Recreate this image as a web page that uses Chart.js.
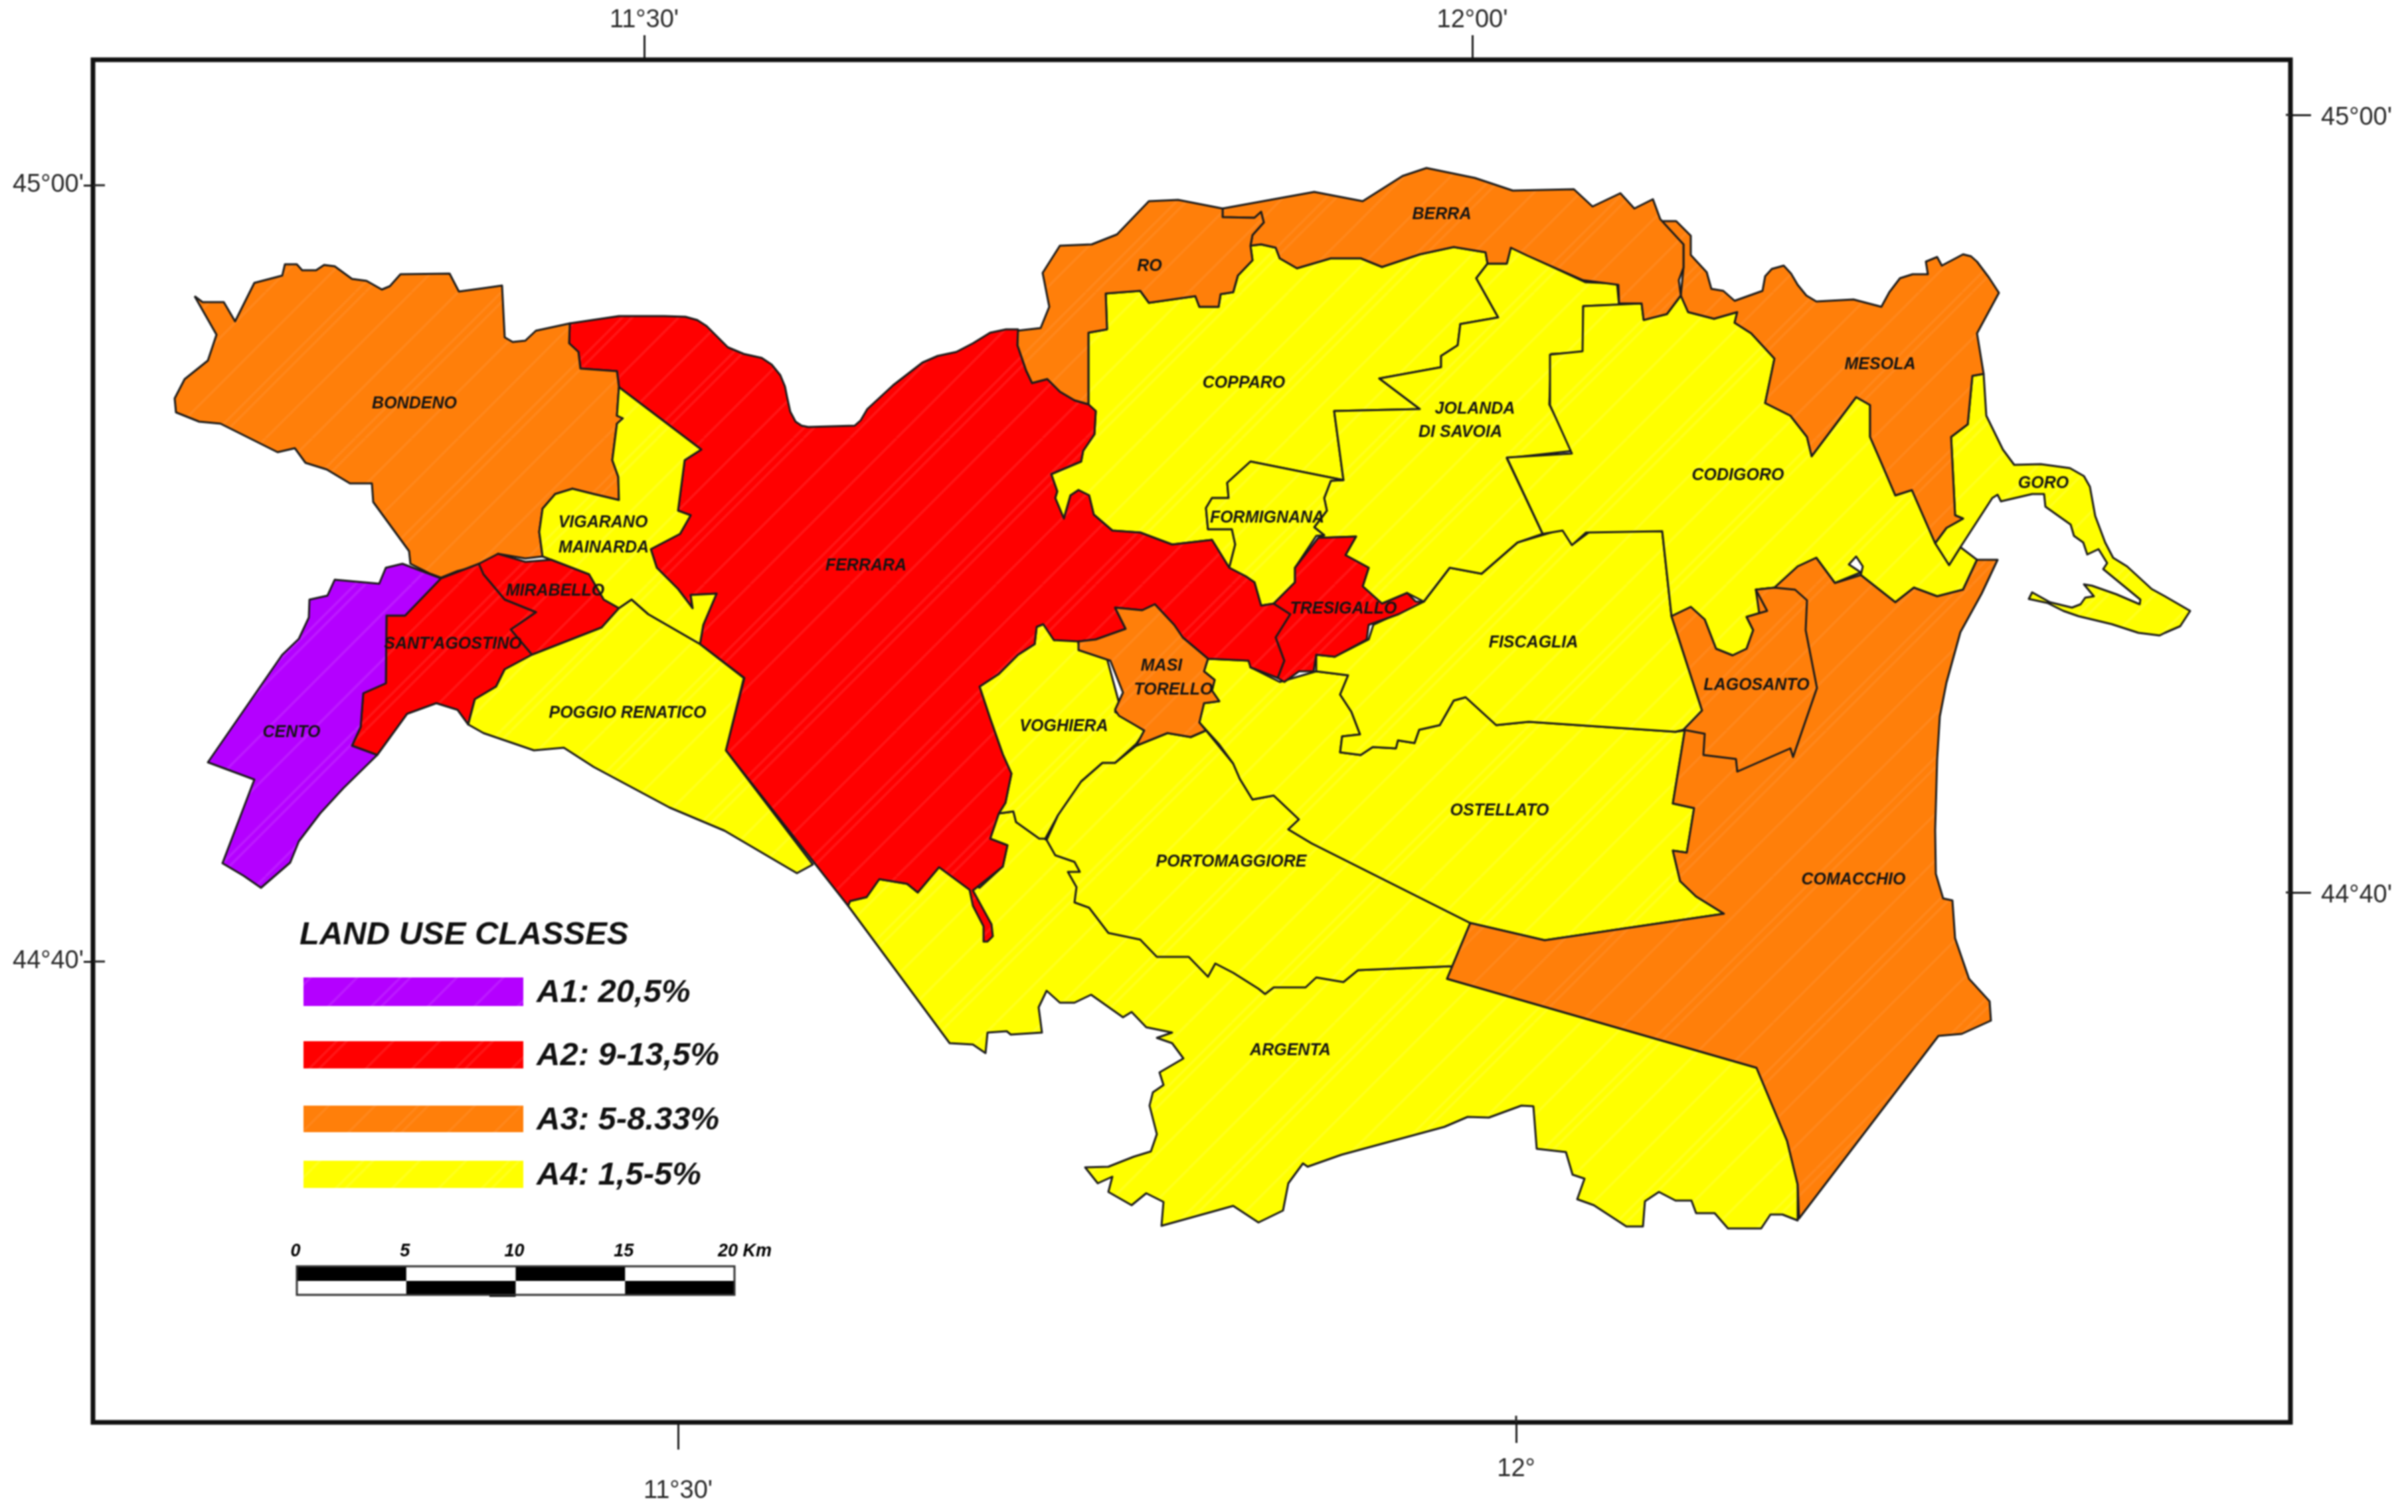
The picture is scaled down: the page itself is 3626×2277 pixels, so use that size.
<!DOCTYPE html>
<html>
<head>
<meta charset="utf-8">
<title>Land use classes</title>
<script src="https://cdn.jsdelivr.net/npm/chart.js@4/dist/chart.umd.min.js"></script>
<style>
html, body { margin: 0; padding: 0; background: #fff; }
canvas { display: block; filter: blur(1px); }
</style>
</head>
<body>
<canvas id="map" width="3626" height="2277"></canvas>
<script>
// Municipality outlines (x, y in map units, y grows downwards)
const argenta = [[1277,1364],[1430,1571],[1465,1573],[1484,1586],[1487,1555],[1516,1553],[1522,1558],[1569,1555],[1564,1517],[1576,1492],[1596,1510],[1618,1510],[1643,1498],[1691,1532],[1704,1524],[1726,1547],[1765,1555],[1742,1563],[1765,1571],[1782,1594],[1746,1615],[1752,1634],[1736,1645],[1731,1665],[1742,1708],[1733,1734],[1707,1742],[1669,1757],[1634,1758],[1653,1782],[1675,1772],[1669,1795],[1704,1815],[1726,1797],[1752,1810],[1749,1846],[1857,1816],[1895,1841],[1932,1823],[1940,1782],[1962,1752],[1969,1757],[2020,1739],[2175,1697],[2210,1682],[2242,1683],[2291,1665],[2309,1666],[2314,1730],[2358,1735],[2368,1769],[2386,1775],[2375,1806],[2400,1815],[2449,1847],[2474,1847],[2477,1809],[2498,1795],[2523,1808],[2547,1808],[2554,1827],[2582,1827],[2602,1850],[2652,1850],[2666,1829],[2684,1829],[2707,1838],[2707,1784],[2691,1718],[2645,1608],[2179,1474],[2187,1455],[2045,1461],[1800,1400],[1576,1265],[1530,1238],[1526,1222],[1504,1225],[1491,1263],[1517,1273],[1510,1305],[1475,1337],[1414,1306],[1382,1344],[1366,1331],[1324,1324],[1305,1351],[1280,1357]];
const voghiera = [[1475,1034],[1504,1015],[1533,986],[1558,970],[1561,944],[1571,940],[1587,964],[1622,960],[1625,973],[1667,992],[1686,1062],[1679,1072],[1724,1101],[1711,1120],[1679,1149],[1660,1149],[1628,1177],[1593,1228],[1574,1263],[1565,1263],[1530,1238],[1526,1222],[1504,1225],[1514,1209],[1523,1165],[1510,1136],[1491,1082]];
const portomaggiore = [[1711,1123],[1758,1104],[1793,1110],[1816,1100],[1857,1150],[1867,1173],[1886,1204],[1918,1198],[1956,1234],[1940,1249],[1975,1270],[2214,1390],[2187,1455],[2045,1461],[2023,1479],[1982,1472],[1966,1487],[1918,1487],[1905,1497],[1895,1489],[1857,1465],[1830,1451],[1819,1471],[1790,1441],[1742,1441],[1717,1415],[1669,1405],[1640,1367],[1618,1359],[1621,1336],[1608,1313],[1626,1313],[1618,1298],[1589,1288],[1576,1265],[1593,1228],[1628,1177],[1660,1149],[1679,1149]];
const ostellato = [[1819,992],[1883,995],[1883,1005],[1927,1027],[1982,1011],[2030,1017],[2018,1046],[2035,1072],[2048,1106],[2021,1109],[2018,1133],[2049,1137],[2067,1125],[2102,1127],[2105,1115],[2130,1119],[2137,1099],[2168,1092],[2189,1055],[2207,1050],[2253,1092],[2302,1087],[2523,1102],[2537,1100],[2519,1210],[2551,1217],[2540,1284],[2519,1281],[2530,1327],[2554,1350],[2596,1376],[2326,1416],[2214,1390],[1975,1270],[1940,1249],[1956,1234],[1918,1198],[1886,1204],[1867,1173],[1857,1150],[1835,1120],[1806,1088],[1813,1059],[1836,1056],[1825,1040],[1829,1024],[1813,1011]];
const fiscaglia = [[2144,906],[2183,855],[2231,864],[2285,817],[2352,797],[2368,820],[2396,799],[2503,800],[2517,928],[2563,1070],[2535,1099],[2523,1102],[2302,1087],[2253,1092],[2207,1050],[2189,1055],[2168,1092],[2137,1099],[2130,1119],[2105,1115],[2102,1127],[2067,1125],[2049,1137],[2018,1133],[2021,1109],[2048,1106],[2035,1072],[2018,1046],[2030,1017],[1982,1011],[1982,986],[2010,989],[2061,963],[2068,941]];
const copparo = [[1667,496],[1665,442],[1717,438],[1730,456],[1800,446],[1806,462],[1835,462],[1838,443],[1857,440],[1864,415],[1886,392],[1883,370],[1899,368],[1921,373],[1927,389],[1953,404],[2004,389],[2049,389],[2081,402],[2138,383],[2189,372],[2237,380],[2240,397],[2223,419],[2256,478],[2199,488],[2195,520],[2170,536],[2170,553],[2077,570],[2138,616],[2009,619],[2023,723],[1883,695],[1848,727],[1850,750],[1825,750],[1816,765],[1819,797],[1855,797],[1860,820],[1851,855],[1825,813],[1765,820],[1717,802],[1675,799],[1647,775],[1640,746],[1624,738],[1612,746],[1602,781],[1589,750],[1592,740],[1583,714],[1628,695],[1631,679],[1648,654],[1650,619],[1639,609],[1639,501]];
const jolanda = [[2240,397],[2269,397],[2275,373],[2387,425],[2435,427],[2438,459],[2384,461],[2384,531],[2336,533],[2333,609],[2368,679],[2269,690],[2323,804],[2285,817],[2231,864],[2183,855],[2144,906],[2119,893],[2081,909],[2052,883],[2061,855],[2026,836],[2042,808],[1985,810],[1994,806],[1979,794],[1998,769],[1994,750],[2004,724],[2023,723],[2009,619],[2138,616],[2077,570],[2170,553],[2170,536],[2195,520],[2199,488],[2256,478],[2223,419]];
const formignana = [[1883,695],[2023,723],[2004,724],[1994,750],[1998,769],[1979,794],[1994,806],[1982,807],[1950,855],[1950,877],[1918,909],[1899,912],[1889,877],[1876,868],[1851,855],[1860,820],[1855,797],[1819,797],[1816,765],[1825,750],[1850,750],[1848,727]];
const codigoro = [[2531,445],[2510,473],[2475,481],[2472,457],[2384,461],[2383,529],[2334,534],[2334,610],[2367,683],[2269,689],[2323,804],[2353,799],[2367,821],[2388,802],[2503,800],[2517,928],[2546,914],[2567,933],[2584,977],[2609,987],[2630,977],[2640,949],[2630,929],[2661,920],[2644,888],[2672,885],[2707,853],[2735,840],[2763,878],[2802,862],[2784,850],[2795,838],[2805,853],[2802,866],[2854,907],[2882,885],[2917,898],[2956,888],[2977,843],[2952,824],[2935,851],[2914,818],[2879,738],[2854,746],[2833,697],[2816,658],[2816,610],[2795,598],[2728,687],[2721,658],[2696,626],[2658,607],[2672,540],[2637,502],[2612,486],[2616,470],[2581,480],[2542,470]];
const goro = [[2987,563],[2991,626],[3016,677],[3033,700],[3073,699],[3117,705],[3138,717],[3147,733],[3155,777],[3170,817],[3182,840],[3203,853],[3240,887],[3260,898],[3298,920],[3283,943],[3260,953],[3252,957],[3220,953],[3180,940],[3130,928],[3107,920],[3083,908],[3055,902],[3060,892],[3087,907],[3120,915],[3133,910],[3140,900],[3153,898],[3138,880],[3150,882],[3187,895],[3222,910],[3223,903],[3167,857],[3173,848],[3160,827],[3143,835],[3137,817],[3123,807],[3118,790],[3080,763],[3078,744],[3060,744],[3013,755],[3008,745],[3000,750],[2952,824],[2935,851],[2914,818],[2931,795],[2956,781],[2944,776],[2938,658],[2963,639],[2970,566]];
const comacchio = [[2977,843],[3008,843],[2984,894],[2952,952],[2931,1028],[2921,1079],[2917,1143],[2914,1250],[2915,1316],[2926,1353],[2940,1356],[2944,1413],[2965,1474],[2996,1508],[2998,1537],[2954,1557],[2919,1560],[2709,1835],[2707,1784],[2691,1718],[2645,1608],[2179,1474],[2214,1390],[2326,1416],[2596,1376],[2554,1350],[2530,1327],[2519,1281],[2540,1284],[2551,1217],[2519,1210],[2537,1100],[2660,1000],[2644,888],[2672,885],[2707,853],[2735,840],[2763,878],[2802,866],[2854,907],[2882,885],[2917,898],[2956,888]];
const lagosanto = [[2517,928],[2546,914],[2567,933],[2584,977],[2609,987],[2630,977],[2640,949],[2630,929],[2661,920],[2644,888],[2672,885],[2703,888],[2721,904],[2719,949],[2736,1036],[2700,1140],[2696,1127],[2616,1162],[2614,1143],[2565,1137],[2567,1105],[2535,1099],[2563,1070]];
const mesola = [[2500,333],[2524,333],[2546,355],[2546,384],[2570,410],[2577,435],[2595,438],[2612,453],[2654,438],[2658,416],[2668,405],[2686,400],[2697,412],[2707,429],[2720,445],[2735,454],[2791,451],[2833,462],[2845,440],[2861,419],[2880,413],[2903,413],[2900,394],[2917,387],[2924,400],[2956,383],[2968,386],[2977,394],[2995,418],[3010,441],[2977,502],[2987,563],[2970,566],[2963,639],[2938,658],[2944,776],[2956,781],[2931,795],[2914,818],[2879,738],[2854,746],[2833,697],[2816,658],[2816,610],[2795,598],[2728,687],[2721,658],[2696,626],[2658,607],[2672,540],[2637,502],[2612,486],[2616,470],[2581,480],[2542,470],[2531,445],[2535,403],[2535,368]];
const berra = [[1841,314],[1979,289],[2052,303],[2112,265],[2148,253],[2221,268],[2278,287],[2370,285],[2398,311],[2440,291],[2461,314],[2489,300],[2500,330],[2535,368],[2535,403],[2528,422],[2531,445],[2510,473],[2475,482],[2472,457],[2438,457],[2437,429],[2384,422],[2300,385],[2275,373],[2269,397],[2240,397],[2237,380],[2189,372],[2138,383],[2081,402],[2049,389],[2004,389],[1953,404],[1927,389],[1921,373],[1899,368],[1883,370],[1886,354],[1903,335],[1899,319],[1889,328],[1841,327]];
const ro = [[1532,498],[1567,494],[1580,462],[1570,411],[1596,370],[1644,368],[1682,353],[1730,303],[1774,301],[1841,314],[1841,327],[1889,328],[1899,319],[1903,335],[1886,354],[1883,370],[1886,392],[1864,415],[1857,440],[1838,443],[1835,462],[1806,462],[1800,446],[1730,456],[1717,438],[1665,442],[1667,496],[1639,501],[1639,609],[1618,603],[1596,590],[1577,571],[1554,577],[1545,558],[1532,520]];
const ferrara = [[858,487],[932,476],[1000,476],[1032,477],[1050,482],[1064,491],[1080,507],[1096,523],[1120,533],[1147,539],[1162,549],[1175,565],[1182,582],[1185,597],[1190,620],[1198,635],[1207,641],[1217,643],[1287,641],[1296,633],[1306,616],[1345,580],[1389,546],[1412,536],[1440,530],[1465,517],[1491,501],[1515,496],[1533,496],[1532,520],[1545,558],[1554,577],[1577,571],[1596,590],[1618,603],[1639,609],[1650,619],[1648,654],[1631,679],[1628,695],[1583,714],[1592,740],[1589,750],[1602,781],[1612,746],[1624,738],[1640,746],[1647,775],[1675,799],[1717,802],[1765,820],[1825,813],[1851,855],[1876,868],[1889,877],[1899,912],[1918,909],[1943,925],[1921,960],[1934,995],[1924,1021],[1883,1005],[1880,995],[1819,992],[1781,960],[1768,941],[1739,910],[1720,919],[1679,915],[1695,947],[1650,963],[1624,966],[1587,964],[1571,940],[1561,944],[1558,970],[1533,986],[1504,1015],[1475,1034],[1491,1082],[1510,1136],[1523,1165],[1514,1209],[1504,1225],[1491,1263],[1517,1273],[1510,1305],[1465,1341],[1493,1392],[1495,1410],[1487,1418],[1481,1418],[1481,1395],[1465,1364],[1460,1340],[1414,1306],[1382,1344],[1366,1331],[1324,1324],[1305,1351],[1280,1357],[1277,1364],[1093,1130],[1121,1021],[1054,970],[1059,941],[1079,894],[1040,896],[1043,916],[1021,887],[989,855],[980,827],[1024,804],[1040,776],[1021,769],[1031,693],[1056,677],[932,583],[929,559],[874,555],[871,530],[857,517]];
const tresigallo = [[1985,810],[2042,808],[2026,836],[2061,855],[2052,883],[2081,909],[2119,893],[2132,906],[2144,906],[2106,925],[2061,941],[2058,963],[2010,989],[1982,986],[1978,1011],[1956,1011],[1934,1027],[1924,1021],[1934,995],[1921,960],[1943,925],[1918,909],[1950,877],[1950,855]];
const masiTorello = [[1679,915],[1720,919],[1739,910],[1768,941],[1781,960],[1819,992],[1813,1011],[1829,1024],[1825,1040],[1836,1056],[1813,1059],[1806,1088],[1816,1100],[1793,1110],[1758,1104],[1711,1123],[1723,1100],[1685,1078],[1679,1069],[1691,1043],[1672,995],[1624,979],[1624,966],[1650,963],[1695,947]];
const bondeno = [[293,446],[305,455],[337,455],[354,484],[383,426],[425,415],[429,398],[447,398],[455,407],[476,407],[488,399],[504,401],[530,420],[552,423],[575,436],[587,431],[603,413],[677,412],[691,439],[728,434],[756,430],[760,508],[772,515],[791,513],[807,498],[858,487],[857,517],[871,530],[874,555],[929,559],[932,583],[929,626],[938,630],[929,638],[922,693],[931,718],[932,753],[894,744],[862,736],[836,744],[817,766],[812,801],[817,838],[791,841],[750,834],[721,852],[689,860],[664,870],[648,864],[618,849],[616,830],[562,756],[560,728],[527,728],[492,707],[460,697],[444,675],[418,681],[332,638],[300,635],[265,621],[263,600],[278,571],[313,543],[326,504]];
const vigarano = [[932,583],[1056,677],[1031,693],[1021,769],[1040,776],[1024,804],[980,827],[989,855],[1021,887],[1043,916],[1040,896],[1079,894],[1059,941],[1054,970],[976,925],[951,903],[932,916],[909,903],[887,865],[830,843],[817,838],[812,801],[817,766],[836,744],[862,736],[894,744],[932,753],[931,718],[922,693],[929,638],[938,630],[929,626]];
const mirabello = [[721,849],[750,834],[791,846],[830,843],[887,865],[909,903],[932,916],[906,945],[801,986],[769,948],[807,922],[760,903],[728,865]];
const santAgostino = [[664,871],[721,849],[728,865],[760,903],[807,922],[769,948],[801,986],[760,1008],[747,1034],[715,1053],[705,1091],[689,1069],[657,1059],[613,1075],[568,1137],[530,1123],[543,1095],[547,1044],[581,1029],[582,927],[610,927]];
const cento = [[664,871],[606,849],[581,855],[571,879],[504,873],[493,897],[466,903],[465,930],[450,962],[425,986],[313,1148],[383,1174],[335,1300],[367,1319],[393,1337],[437,1299],[450,1267],[482,1225],[517,1187],[568,1137],[530,1123],[543,1095],[547,1044],[581,1029],[582,927],[610,927]];
const poggioRenatico = [[932,916],[951,903],[976,925],[1054,970],[1120,1021],[1093,1130],[1224,1302],[1200,1315],[1091,1251],[1008,1216],[894,1155],[849,1126],[804,1130],[728,1104],[705,1091],[715,1053],[747,1034],[760,1008],[801,986],[906,945]];

// Paint order and land use class of each municipality
const regionNames = ['Argenta','Voghiera','Portomaggiore','Ostellato','Fiscaglia','Copparo','Jolanda di Savoia','Formignana','Codigoro','Goro','Comacchio','Lagosanto','Mesola','Berra','Ro','Ferrara','Tresigallo','Masi Torello','Bondeno','Vigarano Mainarda','Mirabello',"Sant'Agostino",'Cento','Poggio Renatico'];
const regionOutlines = [argenta,voghiera,portomaggiore,ostellato,fiscaglia,copparo,jolanda,formignana,codigoro,goro,comacchio,lagosanto,mesola,berra,ro,ferrara,tresigallo,masiTorello,bondeno,vigarano,mirabello,santAgostino,cento,poggioRenatico];
const regionClasses = [3,3,3,3,3,3,3,3,3,3,2,2,2,2,2,1,1,2,2,3,1,1,0,3];

// Names written on the map
const labelTexts = ['BONDENO','CENTO',"SANT'AGOSTINO",'MIRABELLO','VIGARANO','MAINARDA','POGGIO RENATICO','FERRARA','COPPARO','RO','BERRA','JOLANDA','DI SAVOIA','FORMIGNANA','TRESIGALLO','MASI','TORELLO','VOGHIERA','FISCAGLIA','OSTELLATO','PORTOMAGGIORE','ARGENTA','COMACCHIO','LAGOSANTO','CODIGORO','MESOLA','GORO'];
const labelX = [624,439,682,836,908,909,945,1304,1873,1731,2171,2221,2199,1908,2023,1749,1767,1602,2309,2258,1854,1943,2791,2645,2617,2831,3077];
const labelY = [608,1103,970,890,787,825,1074,852,577,401,323,616,651,780,917,1003,1039,1094,968,1221,1298,1582,1325,1032,716,549,728];

// Legend
const legendTitle = 'LAND USE CLASSES';
const classLabels = ['A1: 20,5%','A2: 9-13,5%','A3: 5-8.33%','A4: 1,5-5%'];
const classColors = ['#b400ff','#ff0000','#ff7f0a','#ffff00'];
const classStripes = ['#cf55ff','#ff4a4a','#ff9a45','#ffff66'];

// Graticule ticks
const topTicks = [970,2217];
const topLabels = ["11°30'","12°00'"];
const leftTicks = [279,1448];
const leftLabels = ["45°00'","44°40'"];
const rightTicks = [173,1344];
const rightLabels = ["45°00'","44°40'"];

// Scale bar
const scaleKm = [0,5,10,15,20];

const FONT = '"Liberation Sans", Arial, sans-serif';

// Fill with the faint diagonal streaks of the scanned map
function streakFill(color, stripe) {
    const size = 220;
    const tile = document.createElement('canvas');
    tile.width = size;
    tile.height = size;
    const c = tile.getContext('2d');
    c.fillStyle = color;
    c.fillRect(0, 0, size, size);
    c.strokeStyle = stripe;
    c.globalAlpha = 0.28;
    c.lineWidth = 4;
    [30, 95, 110, 180].forEach(k => {
        [-size, 0, size].forEach(n => {
            c.beginPath();
            c.moveTo(k + n - size, size);
            c.lineTo(k + n, 0);
            c.stroke();
        });
    });
    return c.createPattern(tile, 'repeat');
}

const classFills = classColors.map((col, i) => streakFill(col, classStripes[i]));

const datasets = regionNames.map((name, i) => {
    const ring = regionOutlines[i].concat([regionOutlines[i][0]]);
    return {
        label: name,
        data: ring.map(p => ({ x: p[0], y: p[1] })),
        order: regionNames.length - i, // chart.js paints high order first
        showLine: true,
        fill: 'shape',
        tension: 0,
        pointRadius: 0,
        borderColor: '#1c1c1c',
        borderWidth: 3,
        borderJoinStyle: 'round',
        backgroundColor: classFills[regionClasses[i]],
    };
});

// Axis helper: a zero sized axis sitting on the frame with hand placed ticks
function graticule(position, ticks, labels, tickLength, padding, labelOffset) {
    const horizontal = position === 'top' || position === 'bottom';
    return {
        type: 'linear',
        position: position,
        min: horizontal ? 140 : 90,
        max: horizontal ? 3449 : 2142,
        reverse: !horizontal,
        border: { display: false },
        grid: { drawOnChartArea: false, drawTicks: true, tickLength: tickLength, color: '#222', lineWidth: 3 },
        ticks: {
            autoSkip: false,
            maxRotation: 0,
            padding: padding,
            labelOffset: labelOffset || 0,
            color: '#2a2a2a',
            font: { family: FONT, size: 38 },
            callback: value => labels[ticks.indexOf(value)],
        },
        afterBuildTicks: scale => { scale.ticks = ticks.map(v => ({ value: v })); },
        afterFit: scale => {
            if (horizontal) scale.height = 0;
            else scale.width = 0;
        },
    };
}

// Draws the frame, map names, legend and scale bar on top of the polygons
const mapFurniture = {
    id: 'mapFurniture',
    // the axes take no room in the layout, give them their margin back so labels are not clipped
    afterLayout(chart) {
        Object.values(chart.scales).forEach(s => {
            if (s.position === 'top') s.top = 0;
            if (s.position === 'bottom') s.bottom = chart.height;
            if (s.position === 'left') s.left = 0;
            if (s.position === 'right') s.right = chart.width;
        });
    },
    afterDatasetsDraw(chart) {
        const { ctx, chartArea } = chart;
        const sx = chart.scales.x;
        const sy = chart.scales.y;

        ctx.save();
        // frame
        ctx.strokeStyle = '#111';
        ctx.lineWidth = 7;
        ctx.strokeRect(chartArea.left, chartArea.top, chartArea.width, chartArea.height);
        // tick stubs on the inner side of the frame
        ctx.lineWidth = 3;
        ctx.strokeStyle = '#222';
        leftTicks.forEach(v => {
            ctx.beginPath();
            ctx.moveTo(chartArea.left, sy.getPixelForValue(v));
            ctx.lineTo(chartArea.left + 18, sy.getPixelForValue(v));
            ctx.stroke();
        });
        rightTicks.forEach(v => {
            ctx.beginPath();
            ctx.moveTo(chartArea.right, sy.getPixelForValue(v));
            ctx.lineTo(chartArea.right - 7, sy.getPixelForValue(v));
            ctx.stroke();
        });
        ctx.beginPath();
        ctx.moveTo(sx.getPixelForValue(2283), chartArea.bottom);
        ctx.lineTo(sx.getPixelForValue(2283), chartArea.bottom - 10);
        ctx.stroke();

        // municipality names
        ctx.fillStyle = '#141414';
        ctx.font = 'italic bold 25px ' + FONT;
        ctx.textAlign = 'center';
        ctx.textBaseline = 'middle';
        labelTexts.forEach((t, i) => {
            ctx.fillText(t, sx.getPixelForValue(labelX[i]), sy.getPixelForValue(labelY[i]));
        });

        // legend
        ctx.textAlign = 'left';
        ctx.textBaseline = 'alphabetic';
        ctx.fillStyle = '#111';
        ctx.font = 'italic bold 49px ' + FONT;
        ctx.fillText(legendTitle, sx.getPixelForValue(451), sy.getPixelForValue(1422));
        const rowTop = [1472, 1568, 1665, 1748];
        const rowBottom = [1515, 1609, 1705, 1789];
        classLabels.forEach((t, i) => {
            const x0 = sx.getPixelForValue(457);
            const y0 = sy.getPixelForValue(rowTop[i]);
            ctx.fillStyle = classFills[i];
            ctx.fillRect(x0, y0, sx.getPixelForValue(788) - x0, sy.getPixelForValue(rowBottom[i]) - y0);
            ctx.fillStyle = '#111';
            ctx.font = 'italic bold 49px ' + FONT;
            ctx.textBaseline = 'middle';
            ctx.fillText(t, sx.getPixelForValue(808), (y0 + sy.getPixelForValue(rowBottom[i])) / 2 + 2);
        });

        // scale bar: two rows of alternating blocks
        const kmX = km => sx.getPixelForValue(447 + km * 32.95);
        const barTop = sy.getPixelForValue(1907);
        const barMid = sy.getPixelForValue(1929);
        const barBottom = sy.getPixelForValue(1950);
        ctx.fillStyle = '#000';
        scaleKm.slice(0, -1).forEach((km, i) => {
            const x1 = kmX(km);
            const x2 = kmX(scaleKm[i + 1]);
            if (i % 2 === 0) ctx.fillRect(x1, barTop, x2 - x1, barMid - barTop);
            else ctx.fillRect(x1, barMid, x2 - x1, barBottom - barMid);
        });
        ctx.fillRect(kmX(8.8), barBottom, kmX(10) - kmX(8.8), 3);
        ctx.strokeStyle = '#333';
        ctx.lineWidth = 3;
        ctx.strokeRect(kmX(0), barTop, kmX(20) - kmX(0), barBottom - barTop);
        ctx.font = 'italic bold 27px ' + FONT;
        ctx.textBaseline = 'middle';
        scaleKm.forEach(km => {
            const label = km === 20 ? '20 Km' : String(km);
            ctx.textAlign = km === 20 ? 'left' : 'center';
            const tx = km === 20 ? kmX(20) - 25 : kmX(km) - 2;
            ctx.fillText(label, tx, sy.getPixelForValue(1885));
        });
        ctx.restore();
    },
};

new Chart(document.getElementById('map'), {
    type: 'scatter',
    data: { datasets: datasets },
    plugins: [mapFurniture],
    options: {
        responsive: false,
        animation: false,
        devicePixelRatio: 1,
        layout: { padding: { left: 140, right: 177, top: 90, bottom: 135 } },
        plugins: { legend: { display: false }, tooltip: { enabled: false } },
        scales: {
            x: graticule('bottom', [1021], ["11°30'"], 41, 40),
            xB: graticule('bottom', [2283], ['12°'], 31, 17),
            xT: graticule('top', topTicks, topLabels, 37, 0),
            y: graticule('left', leftTicks, leftLabels, 14, 0),
            yR: graticule('right', rightTicks, rightLabels, 31, 15, 5),
        },
    },
});
</script>
</body>
</html>
